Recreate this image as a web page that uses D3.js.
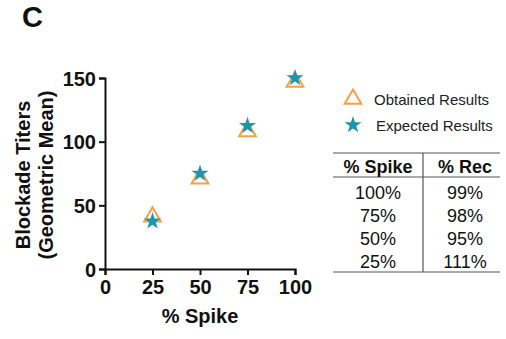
<!DOCTYPE html>
<html><head><meta charset="utf-8">
<script src="https://cdn.jsdelivr.net/npm/d3@7"></script>
<style>body{margin:0;background:#fff}svg{display:block}text{font-family:"Liberation Sans",Arial,sans-serif}</style>
</head><body><svg id="c" width="506" height="339"></svg>
<script>
const spike = [25, 50, 75, 100];
const obtained = [41, 71, 108, 147];
const expected = [37.5, 75, 112.5, 150];
const xTicks = [0, 25, 50, 75, 100];
const yTicks = [0, 50, 100, 150];
const tableHeader = ["% Spike", "% Rec"];
const tableSpike = ["100%", "75%", "50%", "25%"];
const tableRec = ["99%", "98%", "95%", "111%"];
const legendLabels = ["Obtained Results", "Expected Results"];

const orange = "#f7a045", teal = "#1a96ad";
const svg = d3.select("#c");
const x = d3.scaleLinear().domain([0, 100]).range([105, 295]);
const y = d3.scaleLinear().domain([0, 150]).range([269, 78]);

svg.append("text").attr("x", 22).attr("y", 27).attr("font-size", 29).attr("font-weight", "bold").attr("fill", "#111").text("C");

const xa = svg.append("g").attr("transform", "translate(0,269)")
  .call(d3.axisBottom(x).tickValues(xTicks).tickSize(6).tickPadding(5).tickFormat(d3.format("d")));
const ya = svg.append("g").attr("transform", "translate(105,0)")
  .call(d3.axisLeft(y).tickValues(yTicks).tickSize(6).tickPadding(3).tickFormat(d3.format("d")));
[xa, ya].forEach(a => {
  a.select(".domain").attr("stroke", "#111").attr("stroke-width", 2);
  a.selectAll(".tick line").attr("stroke", "#111").attr("stroke-width", 2);
  a.selectAll(".tick text").attr("font-size", 20).attr("font-weight", "bold").attr("fill", "#111")
    .attr("font-family", "Liberation Sans, Arial, sans-serif");
});
ya.selectAll(".tick text").attr("dy", "0.36em");

svg.append("text").attr("x", 200).attr("y", 323).attr("text-anchor", "middle")
  .attr("font-size", 20).attr("font-weight", "bold").attr("fill", "#111").text("% Spike");
const yt = svg.append("text").attr("transform", "translate(0,175) rotate(-90)")
  .attr("text-anchor", "middle").attr("font-size", 20).attr("font-weight", "bold").attr("fill", "#111");
yt.append("tspan").attr("x", 0).attr("y", 30).text("Blockade Titers");
yt.append("tspan").attr("x", 0).attr("y", 53).text("(Geometric Mean)");

const tri = d3.symbol().type(d3.symbolTriangle).size(120);
const star = d3.symbol().type(d3.symbolStar).size(90);

svg.append("g").selectAll("path").data(spike).join("path")
  .attr("d", tri).attr("transform", (d, i) => `translate(${x(d)},${y(obtained[i])})`)
  .attr("fill", "none").attr("stroke", orange).attr("stroke-width", 2);
svg.append("g").selectAll("path").data(spike).join("path")
  .attr("d", star).attr("transform", (d, i) => `translate(${x(d)},${y(expected[i])})`)
  .attr("fill", teal);

// legend
svg.append("path").attr("d", tri).attr("transform", "translate(353,99)")
  .attr("fill", "none").attr("stroke", orange).attr("stroke-width", 2);
svg.append("path").attr("d", star).attr("transform", "translate(353,125)").attr("fill", teal);
svg.append("text").attr("x", 374).attr("y", 105).attr("font-size", 15).attr("fill", "#222").text(legendLabels[0]);
svg.append("text").attr("x", 376).attr("y", 131).attr("font-size", 15).attr("fill", "#222").text(legendLabels[1]);

// table
const tl = 333, tr = 500, tmid = 423;
const colX = [378, 465];
[153, 177, 272].forEach(yy => svg.append("line").attr("x1", tl).attr("x2", tr).attr("y1", yy).attr("y2", yy)
  .attr("stroke", "#555").attr("stroke-width", 1.2));
svg.append("line").attr("x1", tmid).attr("x2", tmid).attr("y1", 153).attr("y2", 272).attr("stroke", "#555").attr("stroke-width", 1.2);
tableHeader.forEach((h, i) => svg.append("text").attr("x", colX[i]).attr("y", 173).attr("text-anchor", "middle")
  .attr("font-size", 18).attr("font-weight", "bold").attr("fill", "#111").text(h));
const rowY = [199, 222, 245, 268];
tableSpike.forEach((t, i) => svg.append("text").attr("x", colX[0]).attr("y", rowY[i]).attr("text-anchor", "middle")
  .attr("font-size", 18).attr("fill", "#111").text(t));
tableRec.forEach((t, i) => svg.append("text").attr("x", colX[1]).attr("y", rowY[i]).attr("text-anchor", "middle")
  .attr("font-size", 18).attr("fill", "#111").text(t));
</script></body></html>
